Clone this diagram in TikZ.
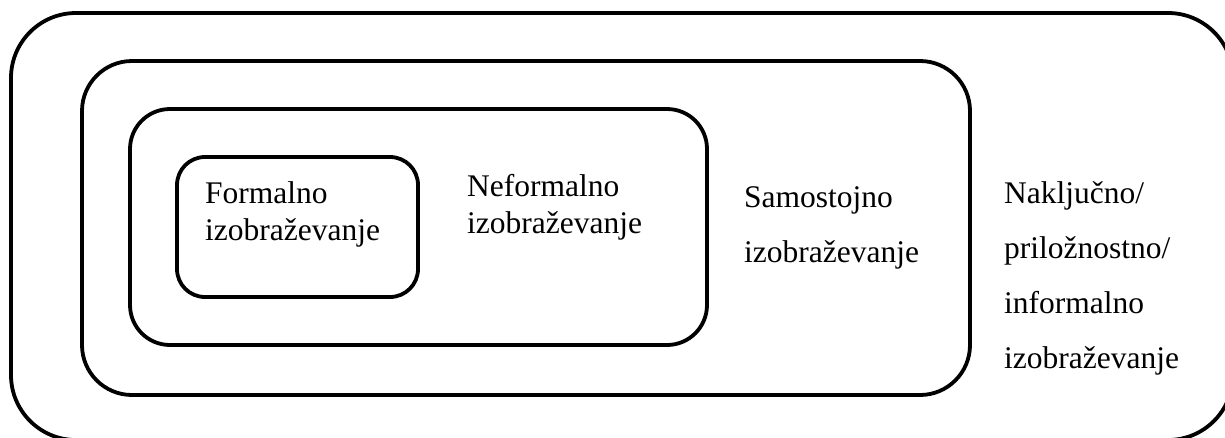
\documentclass[tikz,border=0pt]{standalone}
\usepackage{fontspec}
\setmainfont{Liberation Serif}
\begin{document}
\begin{tikzpicture}[x=1pt,y=-1pt,
  frame/.style={draw=black,line width=3.8pt},
  label/.style={anchor=base west,inner sep=0pt,align=left},
  tight/.style={label,font=\fontsize{31.5}{37}\selectfont},
  loose/.style={label,font=\fontsize{31.5}{55}\selectfont}]
\useasboundingbox (0,0) rectangle (1225,437);
\begin{scope}
\clip (0,0) rectangle (1225,437);
% nested learning contexts
\draw[frame,rounded corners=65pt] (11,13) rectangle (1233,440);
\draw[frame,rounded corners=50pt] (82,61) rectangle (970,395);
\draw[frame,rounded corners=40pt] (130,109) rectangle (707,345);
\draw[frame,rounded corners=28pt] (177,157) rectangle (418,297);
\end{scope}
% labels, anchored at the baseline of their last line
\node[tight] (formal) at (205,240) {Formalno\\izobraževanje};
\node[tight] (neformal) at (467,233) {Neformalno\\izobraževanje};
\node[loose] (samo) at (744,262) {Samostojno\\izobraževanje};
\node[loose] (informal) at (1004,368) {Naključno/\\priložnostno/\\informalno\\izobraževanje};
\end{tikzpicture}
\end{document}
